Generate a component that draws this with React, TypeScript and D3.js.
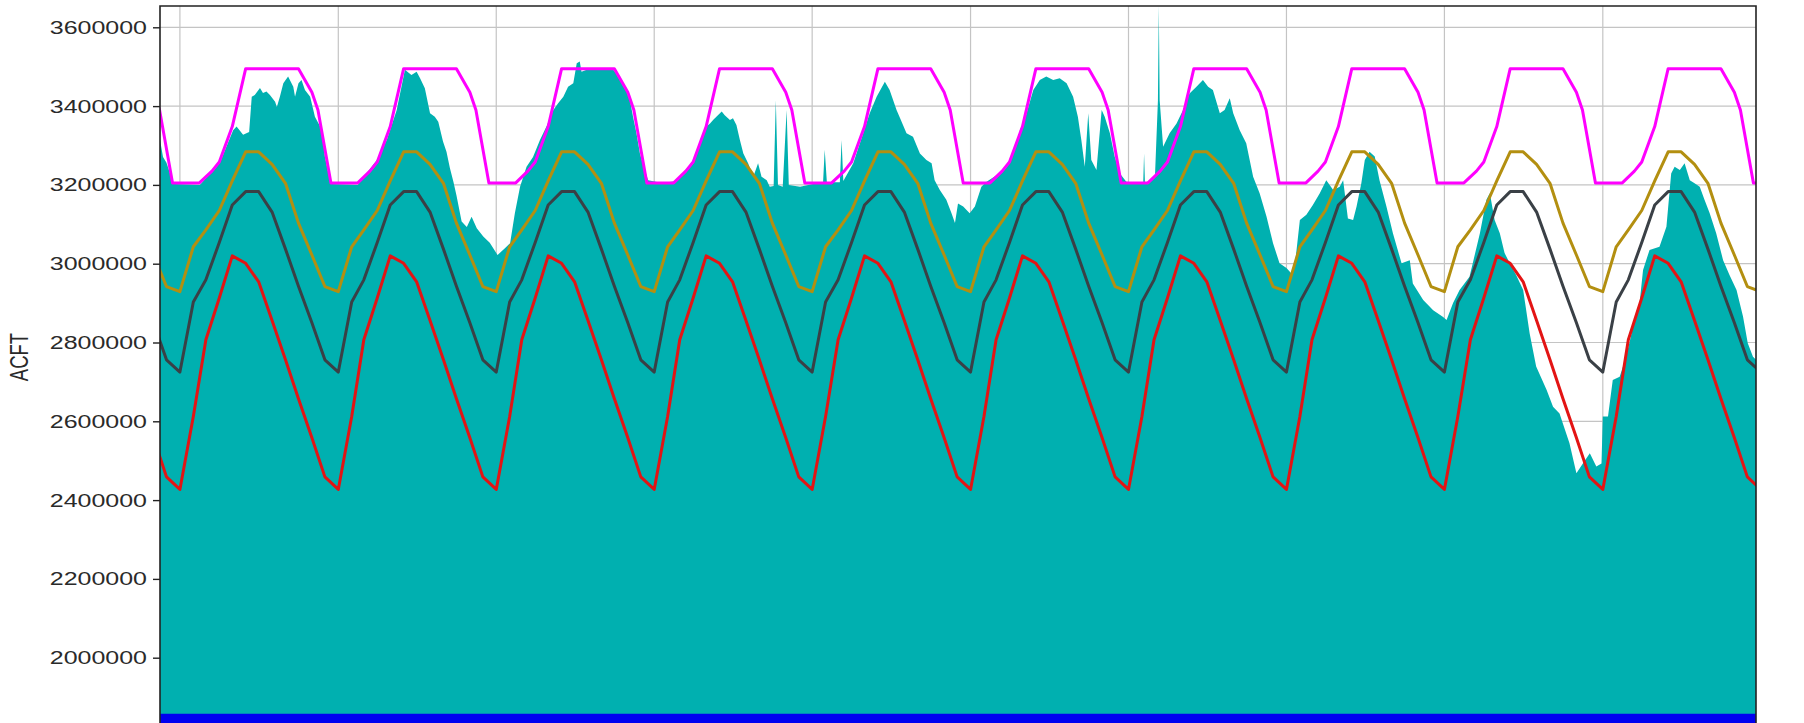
import React, { useEffect, useRef } from "react";
import * as d3 from "d3";

// chart window (x axis dates are not shown, only the yearly grid)
const startDate = new Date(2019, 10, 16);
const endDate = new Date(2029, 11, 21);

// y axis ticks in ACFT
const yTicks = [2000000, 2200000, 2400000, 2600000, 2800000, 3000000, 3200000, 3400000, 3600000];

// simulated storage, day offset from startDate and value in 1000 ACFT
const storageDay = [
  0, 7, 15, 30, 35, 92, 123, 141, 169, 177, 192, 206, 212, 219, 231, 238, 246, 254, 266, 270,
  277, 285, 296, 308, 312, 320, 327, 335, 347, 358, 370, 377, 381, 389, 397, 457, 478, 501, 524, 547,
  566, 581, 593, 601, 612, 624, 635, 643, 654, 662, 670, 678, 685, 697, 709, 720, 732, 747, 762, 780,
  797, 809, 820, 832, 847, 862, 878, 893, 909, 920, 932, 943, 955, 963, 970, 974, 986, 1017, 1047, 1063,
  1078, 1086, 1093, 1101, 1109, 1120, 1128, 1160, 1194, 1217, 1232, 1247, 1263, 1271, 1278, 1298, 1305, 1317, 1324, 1332,
  1340, 1348, 1359, 1371, 1382, 1390, 1402, 1409, 1418, 1423, 1428, 1439, 1448, 1453, 1479, 1517, 1532, 1536, 1541, 1571,
  1575, 1579, 1602, 1625, 1640, 1656, 1675, 1686, 1702, 1710, 1725, 1740, 1756, 1771, 1783, 1790, 1802, 1817, 1829, 1837,
  1844, 1856, 1871, 1883, 1898, 1910, 1941, 1964, 1983, 1987, 1998, 2018, 2033, 2048, 2064, 2079, 2095, 2110, 2121, 2129,
  2137, 2145, 2152, 2164, 2176, 2183, 2195, 2206, 2218, 2233, 2264, 2272, 2274, 2276, 2299, 2306, 2308, 2310, 2318, 2333,
  2349, 2364, 2379, 2395, 2410, 2422, 2433, 2449, 2460, 2472, 2480, 2495, 2510, 2526, 2541, 2557, 2572, 2587, 2603, 2614,
  2622, 2634, 2649, 2664, 2680, 2695, 2711, 2726, 2734, 2745, 2757, 2765, 2776, 2784, 2795, 2807, 2818, 2834, 2849, 2869,
  2888, 2895, 2919, 2942, 2965, 2973, 2988, 3003, 3026, 3050, 3065, 3073, 3084, 3096, 3107, 3119, 3134, 3150, 3165, 3180,
  3204, 3219, 3234, 3257, 3273, 3288, 3304, 3319, 3331, 3334, 3346, 3357, 3373, 3388, 3404, 3419, 3427, 3442, 3465, 3481,
  3492, 3500, 3512, 3523, 3535, 3546, 3558, 3569, 3581, 3596, 3612, 3627, 3643, 3658, 3669, 3681, 3688,
];
const storageKaf = [
  3314, 3271, 3256, 3207, 3202, 3200, 3238, 3263, 3339, 3348, 3327, 3334, 3424, 3428, 3446, 3433, 3437, 3428, 3411, 3398,
  3424, 3458, 3475, 3449, 3424, 3458, 3466, 3441, 3424, 3373, 3348, 3314, 3272, 3230, 3202, 3200, 3230, 3263, 3314, 3390,
  3492, 3479, 3487, 3471, 3445, 3382, 3373, 3360, 3310, 3284, 3242, 3208, 3174, 3107, 3093, 3119, 3090, 3069, 3053, 3022,
  3039, 3052, 3128, 3195, 3246, 3271, 3314, 3348, 3390, 3407, 3424, 3449, 3458, 3509, 3513, 3487, 3492, 3492, 3492, 3475,
  3441, 3415, 3373, 3331, 3280, 3238, 3212, 3205, 3210, 3238, 3263, 3306, 3348, 3356, 3365, 3386, 3377, 3365, 3369, 3352,
  3314, 3280, 3255, 3221, 3255, 3221, 3212, 3195, 3197, 3415, 3200, 3195, 3390, 3200, 3195, 3204, 3202, 3289, 3207, 3207,
  3314, 3210, 3255, 3331, 3382, 3424, 3462, 3441, 3390, 3370, 3331, 3322, 3280, 3263, 3255, 3212, 3187, 3162, 3128, 3103,
  3153, 3145, 3128, 3145, 3195, 3208, 3230, 3263, 3314, 3339, 3365, 3441, 3466, 3475, 3466, 3471, 3458, 3424, 3373, 3314,
  3246, 3382, 3263, 3238, 3390, 3373, 3331, 3272, 3229, 3208, 3205, 3205, 3280, 3205, 3218, 3415, 3655, 3415, 3297, 3331,
  3356, 3390, 3432, 3449, 3466, 3449, 3441, 3382, 3390, 3420, 3382, 3339, 3306, 3221, 3179, 3119, 3052, 3001, 2989, 2976,
  2992, 3111, 3124, 3149, 3179, 3212, 3187, 3195, 3212, 3115, 3111, 3145, 3204, 3263, 3284, 3272, 3212, 3145, 3077, 3001,
  3009, 2950, 2908, 2882, 2865, 2857, 2900, 2933, 2967, 3077, 3162, 3179, 3111, 3077, 3027, 3001, 2971, 2933, 2823, 2739,
  2680, 2637, 2620, 2544, 2468, 2493, 2519, 2485, 2493, 2612, 2612, 2705, 2713, 2764, 2840, 2900, 2984, 3035, 3043, 3094,
  3229, 3246, 3238, 3255, 3212, 3204, 3195, 3162, 3128, 3077, 3009, 2971, 2933, 2866, 2798, 2764, 2756,
];

// yearly rule curves: [month, day, 1000 ACFT]
const floodControl = [
  [1, 1, 3205], [2, 15, 3205], [3, 15, 3235], [4, 1, 3258], [5, 1, 3348], [6, 1, 3495],
  [10, 1, 3495], [11, 1, 3435], [11, 15, 3390], [12, 15, 3205],
];
const upperGuide = [
  [1, 1, 2929], [2, 1, 3043], [3, 1, 3086], [4, 1, 3135], [5, 1, 3210], [6, 1, 3284],
  [7, 1, 3284], [8, 1, 3252], [9, 1, 3204], [10, 1, 3103], [11, 1, 3022], [12, 1, 2942],
];
const middleGuide = [
  [1, 1, 2725], [2, 1, 2903], [3, 1, 2959], [4, 1, 3054], [5, 1, 3149], [6, 1, 3183],
  [7, 1, 3183], [8, 1, 3131], [9, 1, 3037], [10, 1, 2943], [11, 1, 2850], [12, 1, 2756],
];
const lowerGuide = [
  [1, 1, 2427], [2, 1, 2612], [3, 1, 2807], [4, 1, 2913], [5, 1, 3020], [6, 1, 3001],
  [7, 1, 2954], [8, 1, 2856], [9, 1, 2756], [10, 1, 2657], [11, 1, 2558], [12, 1, 2459],
];
const curveYears = [2019, 2020, 2021, 2022, 2023, 2024, 2025, 2026, 2027, 2028, 2029, 2030];
const bottomLineKaf = 1845;

const ruleColors = ["#ff00ff", "#b38f10", "#3a4046", "#e31414"];

type Pt = { date: Date; v: number };

function expandRule(rule: number[][]): Pt[] {
  const out: Pt[] = [];
  curveYears.forEach((yr) => {
    rule.forEach(([m, d, k]) => out.push({ date: new Date(yr, m - 1, d), v: k * 1000 }));
  });
  return out;
}

function App() {
  const svgRef = useRef<SVGSVGElement>(null);

  useEffect(() => {
    document.body.style.margin = "0";
    const svg = d3.select(svgRef.current);
    svg.selectAll("*").remove();

    const left = 160;
    const right = 1756;
    const top = 6;

    const xScale = d3.scaleTime().domain([startDate, endDate]).range([left, right]);
    const yScale = d3.scaleLinear().domain([2000000, 3600000]).range([657.7, 27.3]);

    svg
      .append("clipPath")
      .attr("id", "plot-clip")
      .append("rect")
      .attr("x", left)
      .attr("y", top)
      .attr("width", right - left)
      .attr("height", 740);

    // grid
    const grid = svg.append("g").attr("stroke", "#c4c4c4").attr("stroke-width", 1.2);
    grid
      .selectAll(".hgrid")
      .data(yTicks)
      .join("line")
      .attr("x1", left)
      .attr("x2", right)
      .attr("y1", (d) => yScale(d))
      .attr("y2", (d) => yScale(d));
    grid
      .selectAll(".vgrid")
      .data(d3.timeYear.range(d3.timeYear.ceil(startDate), endDate))
      .join("line")
      .attr("x1", (d) => xScale(d))
      .attr("x2", (d) => xScale(d))
      .attr("y1", top)
      .attr("y2", 723);

    const plot = svg.append("g").attr("clip-path", "url(#plot-clip)");

    // storage area
    const storage: Pt[] = storageDay.map((d, i) => ({
      date: d3.timeDay.offset(startDate, d),
      v: storageKaf[i] * 1000,
    }));
    const area = d3
      .area<Pt>()
      .x((d) => xScale(d.date))
      .y0(yScale(1800000))
      .y1((d) => yScale(d.v));
    plot.append("path").datum(storage).attr("d", area).attr("fill", "#00b0b0");

    // rule curves
    const line = d3
      .line<Pt>()
      .x((d) => xScale(d.date))
      .y((d) => yScale(d.v));
    [floodControl, upperGuide, middleGuide, lowerGuide].forEach((rule, i) => {
      plot
        .append("path")
        .datum(expandRule(rule))
        .attr("d", line)
        .attr("fill", "none")
        .attr("stroke", ruleColors[i])
        .attr("stroke-width", 3)
        .attr("stroke-linejoin", "round");
    });

    plot
      .append("path")
      .datum([
        { date: startDate, v: bottomLineKaf * 1000 },
        { date: endDate, v: bottomLineKaf * 1000 },
      ])
      .attr("d", line)
      .attr("stroke", "#0000f0")
      .attr("stroke-width", 10);

    // frame
    svg
      .append("path")
      .attr("d", `M${left},723V${top}H${right}V723`)
      .attr("fill", "none")
      .attr("stroke", "#222")
      .attr("stroke-width", 1.6);

    // y axis
    const yAxis = d3.axisLeft(yScale).tickValues(yTicks).tickSize(7).tickPadding(6).tickFormat(d3.format("d"));
    const yg = svg.append("g").attr("transform", `translate(${left},0)`).call(yAxis);
    yg.select(".domain").remove();
    yg.selectAll(".tick line").attr("stroke", "#222").attr("stroke-width", 1.4);
    yg.selectAll(".tick text")
      .attr("fill", "#2a2a2a")
      .attr("font-family", "'Liberation Sans', Arial, sans-serif")
      .attr("font-size", 18.5)
      .attr("x", -13 / 1.35)
      .attr("transform", "scale(1.35,1)");

    svg
      .append("text")
      .attr("transform", "translate(28,357) scale(1.35,1) rotate(-90)")
      .attr("text-anchor", "middle")
      .attr("font-family", "'Liberation Sans', Arial, sans-serif")
      .attr("font-size", 18.5)
      .attr("fill", "#2a2a2a")
      .text("ACFT");
  }, []);

  return (
    <svg
      ref={svgRef}
      width={1804}
      height={723}
      style={{ position: "absolute", left: 0, top: 0, background: "#fff" }}
    />
  );
}

export default App;
